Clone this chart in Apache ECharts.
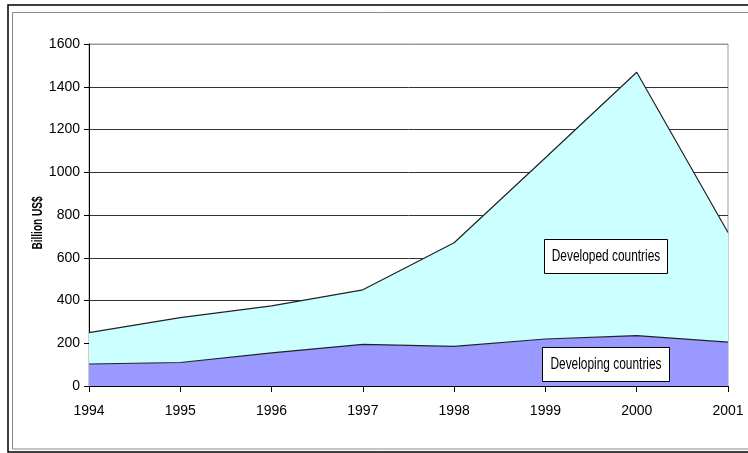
<!DOCTYPE html>
<html>
<head>
<meta charset="utf-8">
<script src="https://cdn.jsdelivr.net/npm/echarts@6/dist/echarts.min.js"></script>
<style>
html,body{margin:0;padding:0;background:#fff;overflow:hidden;}
#c{width:748px;height:453px;}
</style>
</head>
<body>
<div id="c"></div>
<script>
var years = ['1994','1995','1996','1997','1998','1999','2000','2001'];
var developing = [103, 110, 155, 195, 185, 220, 236, 205];
var developed = [147, 210, 220, 255, 485, 848, 1232, 513];
var yTicks = [0, 1600, 200];
var FONT = "'Liberation Sans',Arial,sans-serif";

var chart = echarts.init(document.getElementById('c'), null, {renderer:'canvas'});
var gridColors = ['#333','#333','#333','#333','#333','#333','#333','#333','#999'];
chart.setOption({
  animation: false,
  backgroundColor: '#fff',
  grid: {left: 89, right: 20, top: 44, bottom: 67, show: true, borderColor: '#999', borderWidth: 1, backgroundColor: 'transparent'},
  xAxis: {
    type: 'category', data: years, boundaryGap: false,
    axisLine: {lineStyle: {color: '#000', width: 1}},
    axisTick: {show: true, length: 6, lineStyle: {color: '#000'}},
    axisLabel: {color: '#000', fontFamily: FONT, fontSize: 14, margin: 18}
  },
  yAxis: {
    type: 'value', min: yTicks[0], max: yTicks[1], interval: yTicks[2],
    axisLine: {show: true, lineStyle: {color: '#000', width: 1}},
    axisTick: {show: true, length: 5, lineStyle: {color: '#000'}},
    axisLabel: {color: '#000', fontFamily: FONT, fontSize: 14, margin: 9, formatter: function (v) { return String(v); }},
    splitLine: {show: true, lineStyle: {color: gridColors, width: 1}}
  },
  series: [
    {
      name: 'Developing countries', type: 'line', stack: 'total', data: developing,
      symbol: 'none', lineStyle: {color: '#222', width: 1.2},
      areaStyle: {color: '#9999FF', opacity: 1}
    },
    {
      name: 'Developed countries', type: 'line', stack: 'total', data: developed,
      symbol: 'none', lineStyle: {color: '#222', width: 1.2},
      areaStyle: {color: '#CCFFFF', opacity: 1}
    }
  ],
  graphic: [
    {type: 'rect', shape: {x: 8, y: 5, width: 900, height: 447}, style: {fill: 'none', stroke: '#000', lineWidth: 1.5}, z: 100},
    {type: 'rect', shape: {x: 12.5, y: 12.5, width: 900, height: 436.5}, style: {fill: 'none', stroke: '#888', lineWidth: 1}, z: 100},
    {type: 'text', x: 38, y: 223, rotation: Math.PI / 2, scaleX: 0.72,
      style: {text: 'Billion US$', fill: '#000', font: 'bold 14px ' + FONT, textAlign: 'center', textVerticalAlign: 'middle'}, z: 101},
    {type: 'rect', shape: {x: 544.5, y: 239.5, width: 123, height: 34}, style: {fill: '#fff', stroke: '#000', lineWidth: 1}, z: 100},
    {type: 'text', x: 606, y: 256.5, scaleX: 0.7, style: {text: 'Developed countries', fill: '#000', font: '17px ' + FONT, textAlign: 'center', textVerticalAlign: 'middle'}, z: 101},
    {type: 'rect', shape: {x: 542.5, y: 347.5, width: 127, height: 34}, style: {fill: '#fff', stroke: '#000', lineWidth: 1}, z: 100},
    {type: 'text', x: 606, y: 364.5, scaleX: 0.7, style: {text: 'Developing countries', fill: '#000', font: '17px ' + FONT, textAlign: 'center', textVerticalAlign: 'middle'}, z: 101}
  ]
});
</script>
</body>
</html>
